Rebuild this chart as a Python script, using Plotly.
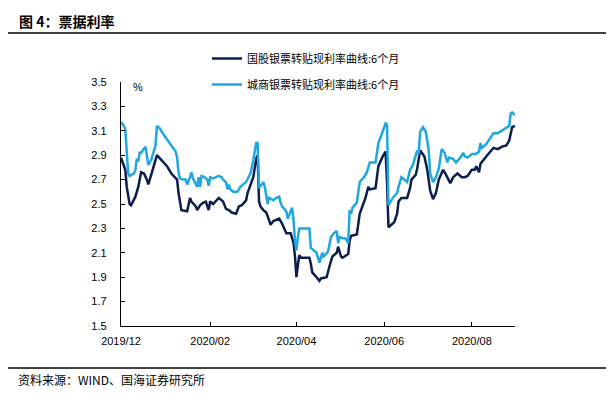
import plotly.graph_objects as go

# ---------------- data ----------------
series_names = ["国股银票转贴现利率曲线:6个月", "城商银票转贴现利率曲线:6个月"]

dark_dates = [
    "2019-12-01", "2019-12-04", "2019-12-05", "2019-12-07", "2019-12-08", "2019-12-11",
    "2019-12-13", "2019-12-15", "2019-12-17", "2019-12-19", "2019-12-20", "2019-12-22",
    "2019-12-23", "2019-12-26", "2019-12-29", "2020-01-02", "2020-01-05", "2020-01-09",
    "2020-01-10", "2020-01-12", "2020-01-16", "2020-01-18", "2020-01-19", "2020-01-22",
    "2020-01-23", "2020-01-25", "2020-01-27", "2020-01-29", "2020-01-31", "2020-02-01",
    "2020-02-03", "2020-02-05", "2020-02-07", "2020-02-10", "2020-02-12", "2020-02-14",
    "2020-02-16", "2020-02-19", "2020-02-21", "2020-02-23", "2020-02-25", "2020-02-26",
    "2020-02-27", "2020-03-02", "2020-03-04", "2020-03-05", "2020-03-06", "2020-03-07",
    "2020-03-09", "2020-03-11", "2020-03-12", "2020-03-14", "2020-03-16", "2020-03-18",
    "2020-03-20", "2020-03-22", "2020-03-25", "2020-03-28", "2020-03-30", "2020-03-31",
    "2020-04-01", "2020-04-02", "2020-04-03", "2020-04-04", "2020-04-10", "2020-04-11",
    "2020-04-12", "2020-04-15", "2020-04-17", "2020-04-18", "2020-04-22", "2020-04-24",
    "2020-04-26", "2020-04-29", "2020-04-30", "2020-05-02", "2020-05-03", "2020-05-07",
    "2020-05-08", "2020-05-09", "2020-05-13", "2020-05-15", "2020-05-17", "2020-05-19",
    "2020-05-21", "2020-05-22", "2020-05-26", "2020-05-28", "2020-05-31", "2020-06-02",
    "2020-06-03", "2020-06-04", "2020-06-05", "2020-06-08", "2020-06-10", "2020-06-11",
    "2020-06-13", "2020-06-17", "2020-06-19", "2020-06-20", "2020-06-23", "2020-06-24",
    "2020-06-26", "2020-06-29", "2020-07-01", "2020-07-03", "2020-07-05", "2020-07-07",
    "2020-07-09", "2020-07-12", "2020-07-14", "2020-07-17", "2020-07-19", "2020-07-22",
    "2020-07-25", "2020-07-27", "2020-07-29", "2020-08-01", "2020-08-03", "2020-08-04",
    "2020-08-06", "2020-08-07", "2020-08-11", "2020-08-16", "2020-08-19", "2020-08-22",
    "2020-08-25", "2020-08-27", "2020-08-29", "2020-08-31",
]
dark_values = [
    2.88, 2.78, 2.64, 2.50, 2.49, 2.56,
    2.64, 2.76, 2.75, 2.70, 2.66, 2.73,
    2.78, 2.90, 2.86, 2.81, 2.75, 2.70,
    2.59, 2.45, 2.44, 2.55, 2.52, 2.48,
    2.45, 2.49, 2.51, 2.52, 2.45, 2.52,
    2.50, 2.53, 2.55, 2.52, 2.46, 2.45,
    2.43, 2.42, 2.48, 2.49, 2.52, 2.53,
    2.59, 2.72, 2.87, 2.90, 2.52, 2.48,
    2.45, 2.43, 2.40, 2.33, 2.36, 2.37,
    2.38, 2.34, 2.26, 2.26, 2.18, 2.07,
    1.90, 2.00, 2.08, 2.06, 2.06, 2.01,
    1.94, 1.90, 1.87, 1.89, 1.90, 1.99,
    2.07, 2.10, 2.15, 2.07, 2.06, 2.09,
    2.20, 2.24, 2.25, 2.42, 2.49, 2.55,
    2.64, 2.62, 2.63, 2.81, 2.89, 2.93,
    2.68, 2.31, 2.32, 2.35, 2.42, 2.52,
    2.55, 2.55, 2.63, 2.70, 2.74, 2.79,
    2.94, 2.89, 2.78, 2.61, 2.54, 2.59,
    2.70, 2.78, 2.74, 2.67, 2.72, 2.75,
    2.72, 2.72, 2.73, 2.78, 2.78, 2.81,
    2.76, 2.83, 2.89, 2.96, 2.95, 2.97,
    2.98, 3.02, 3.13, 3.14,
]

light_dates = [
    "2019-12-01", "2019-12-03", "2019-12-04", "2019-12-05", "2019-12-06", "2019-12-07",
    "2019-12-10", "2019-12-11", "2019-12-12", "2019-12-13", "2019-12-14", "2019-12-15",
    "2019-12-17", "2019-12-18", "2019-12-20", "2019-12-22", "2019-12-23", "2019-12-25",
    "2019-12-26", "2019-12-28", "2019-12-30", "2020-01-03", "2020-01-08", "2020-01-09",
    "2020-01-10", "2020-01-11", "2020-01-13", "2020-01-15", "2020-01-16", "2020-01-18",
    "2020-01-19", "2020-01-20", "2020-01-22", "2020-01-23", "2020-01-24", "2020-01-25",
    "2020-01-26", "2020-01-28", "2020-01-30", "2020-01-31", "2020-02-01", "2020-02-03",
    "2020-02-05", "2020-02-07", "2020-02-09", "2020-02-10", "2020-02-12", "2020-02-13",
    "2020-02-14", "2020-02-15", "2020-02-17", "2020-02-20", "2020-02-22", "2020-02-24",
    "2020-02-26", "2020-02-29", "2020-03-02", "2020-03-04", "2020-03-05", "2020-03-06",
    "2020-03-08", "2020-03-09", "2020-03-10", "2020-03-11", "2020-03-12", "2020-03-13",
    "2020-03-16", "2020-03-18", "2020-03-20", "2020-03-21", "2020-03-22", "2020-03-25",
    "2020-03-26", "2020-03-29", "2020-03-30", "2020-03-31", "2020-04-01", "2020-04-02",
    "2020-04-03", "2020-04-10", "2020-04-11", "2020-04-15", "2020-04-17", "2020-04-19",
    "2020-04-20", "2020-04-23", "2020-04-25", "2020-04-27", "2020-04-29", "2020-04-30",
    "2020-05-01", "2020-05-03", "2020-05-05", "2020-05-07", "2020-05-08", "2020-05-09",
    "2020-05-10", "2020-05-13", "2020-05-15", "2020-05-18", "2020-05-20", "2020-05-22",
    "2020-05-26", "2020-05-28", "2020-05-31", "2020-06-02", "2020-06-03", "2020-06-04",
    "2020-06-07", "2020-06-10", "2020-06-11", "2020-06-13", "2020-06-17", "2020-06-19",
    "2020-06-21", "2020-06-24", "2020-06-25", "2020-06-26", "2020-06-28", "2020-06-30",
    "2020-07-02", "2020-07-03", "2020-07-05", "2020-07-07", "2020-07-09", "2020-07-11",
    "2020-07-13", "2020-07-15", "2020-07-16", "2020-07-19", "2020-07-21", "2020-07-24",
    "2020-07-26", "2020-07-27", "2020-07-29", "2020-08-01", "2020-08-04", "2020-08-06",
    "2020-08-07", "2020-08-08", "2020-08-11", "2020-08-16", "2020-08-19", "2020-08-22",
    "2020-08-25", "2020-08-27", "2020-08-28", "2020-08-29", "2020-08-31",
]
light_values = [
    3.17, 3.14, 3.11, 2.92, 2.75, 2.73,
    2.75, 2.78, 2.87, 2.85, 2.92, 2.92,
    2.96, 2.97, 2.82, 2.86, 2.90, 2.98,
    3.14, 3.12, 3.08, 3.01, 2.93, 2.88,
    2.76, 2.71, 2.70, 2.70, 2.66, 2.72,
    2.76, 2.71, 2.66, 2.64, 2.72, 2.64,
    2.73, 2.72, 2.70, 2.65, 2.72, 2.71,
    2.72, 2.73, 2.72, 2.70, 2.68, 2.62,
    2.66, 2.62, 2.60, 2.60, 2.64, 2.66,
    2.68, 2.75, 2.86, 3.00, 3.00, 2.63,
    2.66, 2.68, 2.64, 2.58, 2.50, 2.55,
    2.53, 2.55, 2.56, 2.51, 2.48, 2.44,
    2.38, 2.47, 2.37, 2.20, 2.12, 2.23,
    2.30, 2.30, 2.14, 2.10, 2.02, 2.10,
    2.07, 2.11, 2.23, 2.26, 2.28, 2.18,
    2.23, 2.22, 2.22, 2.18, 2.45, 2.42,
    2.47, 2.51, 2.68, 2.72, 2.76, 2.84,
    2.84, 3.00, 3.10, 3.16, 3.15, 2.49,
    2.55, 2.59, 2.64, 2.72, 2.68, 2.78,
    2.82, 2.94, 2.91, 3.09, 3.13, 3.09,
    2.94, 2.75, 2.68, 2.72, 2.79, 2.95,
    2.92, 2.84, 2.88, 2.87, 2.84, 2.88,
    2.92, 2.89, 2.88, 2.91, 2.91, 2.93,
    3.00, 2.96, 2.99, 3.08, 3.08, 3.10,
    3.12, 3.14, 3.24, 3.25, 3.23,
]

x_range = ["2019-12-01", "2020-08-31"]
y_ticks = [1.5, 1.7, 1.9, 2.1, 2.3, 2.5, 2.7, 2.9, 3.1, 3.3, 3.5]
title_text = "图 4：票据利率"
source_text = "资料来源：WIND、国海证券研究所"
unit_text = "%"

# ---------------- figure ----------------
W, H = 614, 394
ML, MR, MT, MB = 121, 99, 82, 68
PW, PH = W - ML - MR, H - MT - MB

def px_x(px):
    return (px - ML) / PW

def px_y(py):
    return (H - MB - py) / PH

DARK = "#0C1E4E"
LIGHT = "#1FA7E1"
FONT = "Liberation Sans, Arial, Noto Sans CJK SC, sans-serif"
CJK = "Noto Sans CJK SC, sans-serif"

fig = go.Figure()
fig.add_trace(go.Scatter(x=dark_dates, y=dark_values, mode="lines", name=series_names[0],
                         line=dict(color=DARK, width=2.5), legendgroup="a"))
fig.add_trace(go.Scatter(x=light_dates, y=light_values, mode="lines", name=series_names[1],
                         line=dict(color=LIGHT, width=2.5), legendgroup="b"))

fig.update_layout(
    width=W, height=H,
    margin=dict(l=ML, r=MR, t=MT, b=MB, pad=0),
    paper_bgcolor="white", plot_bgcolor="white",
    font=dict(family=FONT, size=11, color="#000000"),
    showlegend=True,
    legend=dict(x=px_x(207), y=px_y(44), xanchor="left", yanchor="top",
                orientation="v", font=dict(family=CJK, size=11, color="#000"),
                itemwidth=30, tracegroupgap=7, bgcolor="rgba(0,0,0,0)"),
    xaxis=dict(type="date", range=x_range, tick0="2019-12-01", dtick="M2",
               tickformat="%Y/%m", ticks="inside", ticklen=4, tickcolor="#000",
               showline=True, linecolor="#000", linewidth=1.3, showgrid=False,
               zeroline=False, tickfont=dict(size=11, color="#000"), ticklabelstandoff=5),
    yaxis=dict(range=[1.5, 3.5], tickvals=y_ticks, tickformat=".1f",
               ticks="inside", ticklen=4, tickcolor="#000",
               showline=True, linecolor="#000", linewidth=1.3, showgrid=False,
               zeroline=False, tickfont=dict(size=11, color="#000"), ticklabelstandoff=11),
)

# title, unit and source as text annotations
fig.add_annotation(text="<b>" + title_text + "</b>", xref="paper", yref="paper",
                   x=px_x(17), y=px_y(21), xanchor="left", yanchor="middle",
                   showarrow=False, font=dict(family=CJK, size=14, color="#000"))
fig.add_annotation(text=unit_text, xref="paper", yref="paper",
                   x=px_x(131), y=px_y(87), xanchor="left", yanchor="middle",
                   showarrow=False, font=dict(family=FONT, size=11, color="#000"))
fig.add_annotation(text=source_text, xref="paper", yref="paper",
                   x=px_x(16), y=px_y(379), xanchor="left", yanchor="middle",
                   showarrow=False, font=dict(family=CJK, size=12, color="#000"))

# horizontal rules
for py in (33, 368):
    fig.add_shape(type="line", xref="paper", yref="paper",
                  x0=px_x(8), x1=px_x(606), y0=px_y(py), y1=px_y(py),
                  line=dict(color="#000", width=1.3))

fig.write_html("out.html", config={"displayModeBar": False},
               post_script="document.body.style.margin='0px';document.body.style.padding='0px';")
